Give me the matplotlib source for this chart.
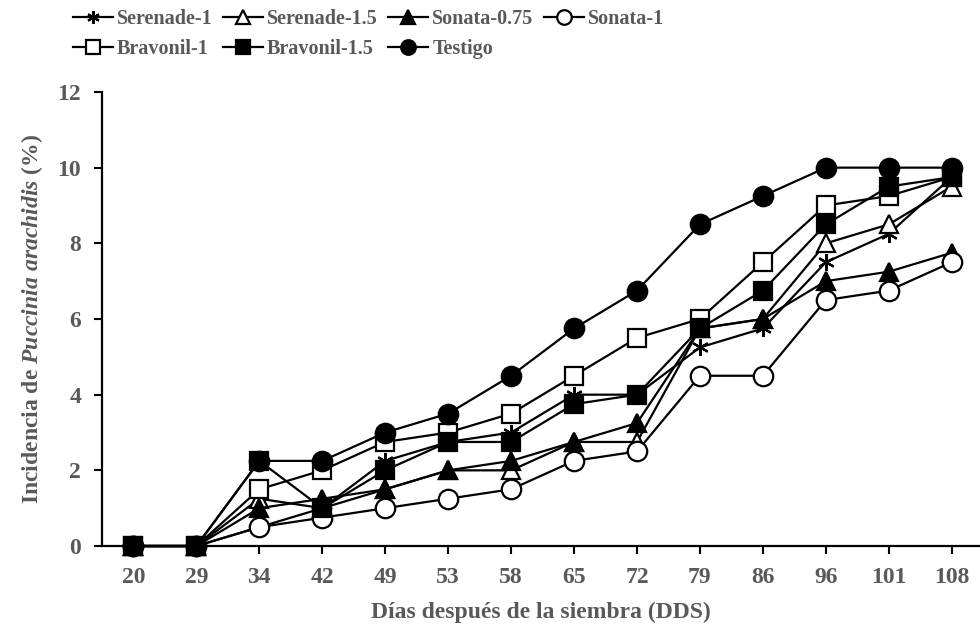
import matplotlib
matplotlib.use("Agg")
import matplotlib.pyplot as plt

plt.rcParams['font.family'] = ['Liberation Serif', 'DejaVu Serif']
plt.rcParams['font.weight'] = 'bold'
plt.rcParams['mathtext.fontset'] = 'custom'
plt.rcParams['mathtext.rm'] = 'Liberation Serif:bold'
plt.rcParams['mathtext.it'] = 'Liberation Serif:italic:bold'

GRIS = "#595959"

dias = ["20", "29", "34", "42", "49", "53", "58", "65", "72", "79", "86", "96", "101", "108"]

serenade_1 = [0, 0, 0.5, 1.0, 2.25, 2.75, 3.0, 4.0, 4.0, 5.25, 5.75, 7.5, 8.25, 9.75]
serenade_15 = [0, 0, 1.25, 1.0, 1.5, 2.0, 2.0, 2.75, 2.75, 5.75, 6.0, 8.0, 8.5, 9.5]
sonata_075 = [0, 0, 1.0, 1.25, 1.5, 2.0, 2.25, 2.75, 3.25, 5.75, 6.0, 7.0, 7.25, 7.75]
sonata_1 = [0, 0, 0.5, 0.75, 1.0, 1.25, 1.5, 2.25, 2.5, 4.5, 4.5, 6.5, 6.75, 7.5]
bravonil_1 = [0, 0, 1.5, 2.0, 2.75, 3.0, 3.5, 4.5, 5.5, 6.0, 7.5, 9.0, 9.25, 9.75]
bravonil_15 = [0, 0, 2.25, 1.0, 2.0, 2.75, 2.75, 3.75, 4.0, 5.75, 6.75, 8.5, 9.5, 9.75]
testigo = [0, 0, 2.25, 2.25, 3.0, 3.5, 4.5, 5.75, 6.75, 8.5, 9.25, 10, 10, 10]

# (etiqueta, valores, marcador, relleno, tamaño, zorder)
series = [
    ("Serenade-1", serenade_1, (6, 2, 0), "black", 12, 3),
    ("Serenade-1.5", serenade_15, "^", "white", 13, 4),
    ("Sonata-0.75", sonata_075, "^", "black", 13, 5),
    ("Sonata-1", sonata_1, "o", "white", 14, 6),
    ("Bravonil-1", bravonil_1, "s", "white", 12.5, 7),
    ("Bravonil-1.5", bravonil_15, "s", "black", 12.5, 9),
    ("Testigo", testigo, "o", "black", 14, 8),
]

fig = plt.figure(figsize=(9.8, 6.33), dpi=100)
ax = fig.add_axes([0.1041, 0.1374, 0.8959, 0.7173])

x = list(range(len(dias)))
handles = {}
for nombre, vals, mk, fc, ms, z in series:
    h, = ax.plot(x, vals, color="black", lw=1.6, marker=mk, ms=ms,
                 mfc=fc, mec="black", mew=1.6, clip_on=False, zorder=z,
                 label=nombre)
    handles[nombre] = h

ax.set_xlim(-0.5, 13.45)
ax.set_ylim(0, 12)
ax.set_xticks(x)
ax.set_xticklabels(dias)
ax.set_yticks(range(0, 13, 2))
ax.tick_params(axis="both", direction="out", length=6, width=1.5,
               labelsize=17, labelcolor=GRIS)
ax.tick_params(axis="x", pad=9)
ax.tick_params(axis="y", pad=9)
for lab in ax.get_xticklabels() + ax.get_yticklabels():
    lab.set_fontweight("bold")
for s in ["top", "right"]:
    ax.spines[s].set_visible(False)
for s in ["left", "bottom"]:
    ax.spines[s].set_linewidth(1.6)

ax.set_xlabel("Días después de la siembra (DDS)", fontsize=17,
              fontweight="bold", color=GRIS, labelpad=10)
ax.set_ylabel(r"Incidencia de $\it{Puccinia\ arachidis}$ (%)", fontsize=17,
              fontweight="bold", color=GRIS, labelpad=9)

# orden columna por columna para que las filas coincidan
orden = ["Serenade-1", "Bravonil-1", "Serenade-1.5", "Bravonil-1.5",
         "Sonata-0.75", "Testigo", "Sonata-1"]
leg = fig.legend([handles[n] for n in orden], orden, ncol=4,
                 loc="upper left", bbox_to_anchor=(0.062, 1.005),
                 frameon=False, fontsize=14.5, markerscale=0.75,
                 handlelength=2.0, handletextpad=0.2, columnspacing=0.5,
                 labelspacing=0.5, borderaxespad=0.2)
for t in leg.get_texts():
    t.set_color(GRIS)
    t.set_fontweight("bold")

fig.savefig("out.png", dpi=100)
